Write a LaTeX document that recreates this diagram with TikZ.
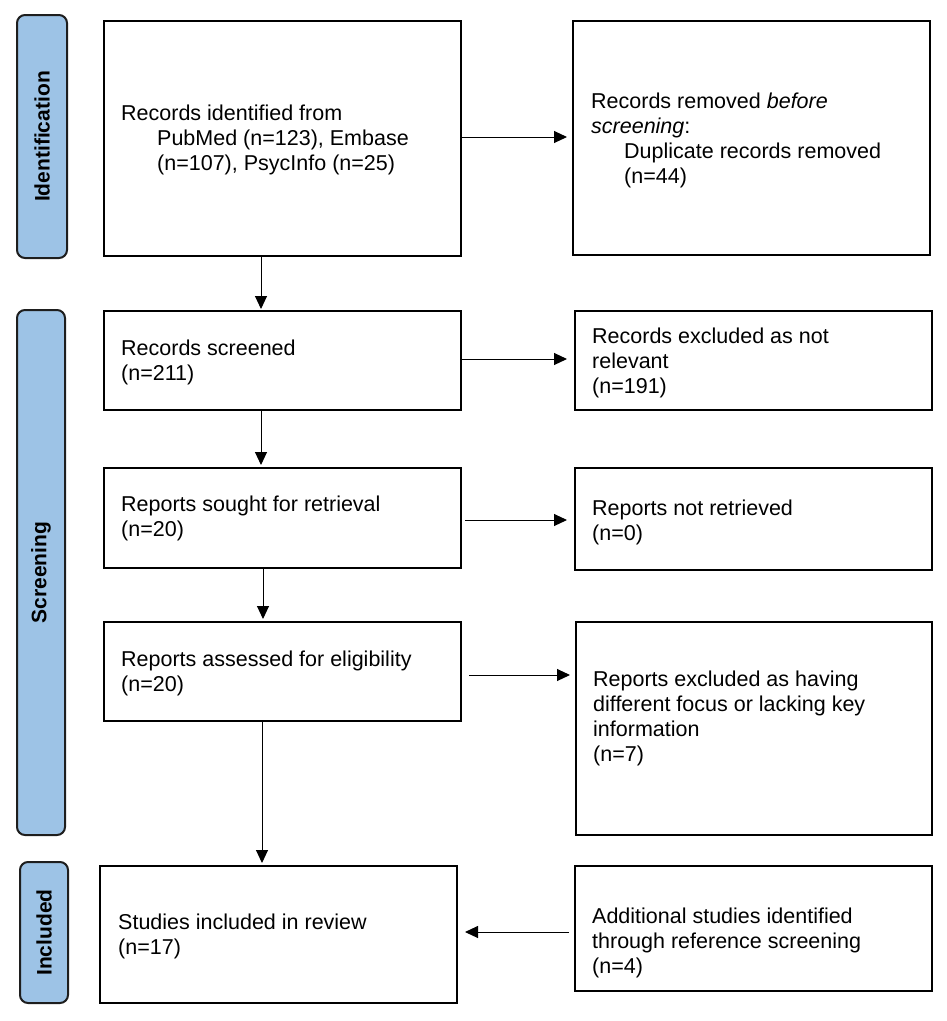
\documentclass[tikz,border=0pt]{standalone}
\usepackage{fontspec}
\setmainfont{Liberation Sans}
\usetikzlibrary{arrows.meta}
\definecolor{phaseblue}{RGB}{157,195,230}
\definecolor{phaseline}{RGB}{30,30,30}
\tikzset{
  box/.style={draw=black, line width=2pt, fill=white, anchor=north west, inner sep=0pt},
  txt/.style={anchor=west, align=left, inner sep=0pt, yshift=-2.5pt, font=\fontsize{21.5}{25}\selectfont},
  phase/.style={draw=phaseline, line width=2pt, fill=phaseblue, rounded corners=8pt, rotate=90,
    font=\fontsize{21}{25}\selectfont\bfseries, inner sep=0pt},
  arr/.style={line width=1pt, -{Triangle[length=13pt,width=12pt]}},
}
\begin{document}
\begin{tikzpicture}[x=1pt,y=-1pt]
\useasboundingbox (0,0) rectangle (947,1021);
% phase labels
\node[phase, minimum width=243, minimum height=50] (L1) at (42,136.5) {Identification};
\node[phase, minimum width=525, minimum height=48] (L2) at (41,572.5) {Screening};
\node[phase, minimum width=141, minimum height=48] (L3) at (44,932.5) {Included};
% left boxes
\node[box, minimum width=357, minimum height=235] (B1) at (103,20) {};
\node[box, minimum width=357, minimum height=99] (B2) at (103,310) {};
\node[box, minimum width=357, minimum height=100] (B3) at (103,467) {};
\node[box, minimum width=357, minimum height=99] (B4) at (103,621) {};
\node[box, minimum width=357, minimum height=137] (B5) at (99,865) {};
% right boxes
\node[box, minimum width=357, minimum height=234] (R1) at (572,20) {};
\node[box, minimum width=357, minimum height=99] (R2) at (574,310) {};
\node[box, minimum width=357, minimum height=102] (R3) at (574,467) {};
\node[box, minimum width=356, minimum height=213] (R4) at (575,621) {};
\node[box, minimum width=357, minimum height=125] (R5) at (574,865) {};
% texts
\node[txt] (T1) at (121,137) {Records identified from\\\hspace*{36pt}PubMed (n=123), Embase\\\hspace*{36pt}(n=107), PsycInfo (n=25)};
\node[txt] (U1) at (591,138) {Records removed \textit{before}\\\textit{screening}:\\\hspace*{33pt}Duplicate records removed\\\hspace*{33pt}(n=44)};
\node[txt] (T2) at (121,360) {Records screened\\(n=211)};
\node[txt] (U2) at (592,360) {Records excluded as not\\relevant\\(n=191)};
\node[txt] (T3) at (121,516) {Reports sought for retrieval\\(n=20)};
\node[txt] (U3) at (592,520) {Reports not retrieved\\(n=0)};
\node[txt] (T4) at (121,671) {Reports assessed for eligibility\\(n=20)};
\node[txt] (U4) at (593,716) {Reports excluded as having\\different focus or lacking key\\information\\(n=7)};
\node[txt] (T5) at (118,934) {Studies included in review\\(n=17)};
\node[txt] (U5) at (592,940) {Additional studies identified\\through reference screening\\(n=4)};
% vertical arrows
\coordinate (xa) at (261,0);
\coordinate (xb) at (263,0);
\coordinate (xc) at (262,0);
\draw[arr] (B1.south -| xa) -- ([yshift=1pt]B2.north -| xa);
\draw[arr] (B2.south -| xa) -- ([yshift=2pt]B3.north -| xa);
\draw[arr] (B3.south -| xb) -- ([yshift=2pt]B4.north -| xb);
\draw[arr] (B4.south -| xc) -- ([yshift=2pt]B5.north -| xc);
% horizontal arrows
\draw[arr, shorten >=5pt] ([yshift=1.5pt]B1.east) -- ([yshift=1.5pt]R1.west |- B1.east);
\draw[arr, shorten >=7pt] ([yshift=1.5pt]B2.east) -- ([yshift=1.5pt]R2.west |- B2.east);
\draw[arr, shorten <=3pt, shorten >=7pt] ([yshift=-2pt]B3.east) -- ([yshift=-2pt]R3.west |- B3.east);
\draw[arr, shorten <=7pt, shorten >=5pt] ([yshift=-3.5pt]B4.east) -- ([yshift=-3.5pt]R4.west |- B4.east);
\draw[arr, shorten <=5pt, shorten >=7pt] ([yshift=-3.5pt]R5.west) -- ([yshift=-3.5pt]B5.east |- R5.west);
\end{tikzpicture}
\end{document}
